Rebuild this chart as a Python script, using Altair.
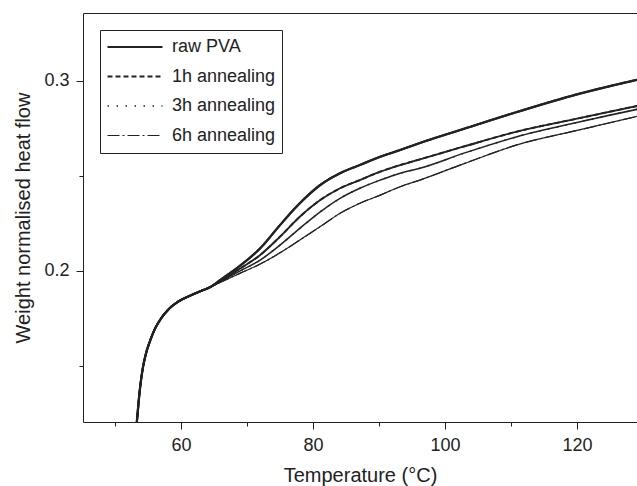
import altair as alt
import pandas as pd

# ---- data ----
series_names = ["raw PVA", "1h annealing", "3h annealing", "6h annealing"]

# shared low-temperature branch (all curves overlap)
common_T = [53.25, 53.5, 53.8, 54.2, 54.7, 55.3, 56.06, 57.0, 58.2, 59.6, 61.2, 63.0, 64.5]
common_v = [0.118, 0.128, 0.1385, 0.1485, 0.1565, 0.163, 0.1695, 0.175, 0.180, 0.1838, 0.1866,
            0.1893, 0.1915]

branch_T = [65.9, 68.9, 72.0, 75.0, 78.0, 81.1, 84.1, 87.1, 90.2, 93.2, 96.2, 103.0, 110.9, 120.0, 129.5]
raw_v = [0.1950, 0.2025, 0.2118, 0.2240, 0.2355, 0.2451, 0.2513, 0.2556, 0.2600, 0.2635, 0.2672,
         0.2748, 0.2835, 0.2928, 0.3008]
h1_v = [0.1946, 0.2010, 0.2083, 0.2179, 0.2284, 0.2372, 0.2434, 0.2477, 0.2521, 0.2556, 0.2586,
        0.2655, 0.2732, 0.2800, 0.2870]
h3_v = [0.1942, 0.1998, 0.2056, 0.2135, 0.2223, 0.2310, 0.2381, 0.2434, 0.2477, 0.2513, 0.2539,
        0.2620, 0.2705, 0.2780, 0.2852]
h6_v = [0.1938, 0.1986, 0.2035, 0.2094, 0.2161, 0.2232, 0.2302, 0.2355, 0.2398, 0.2442, 0.2477,
        0.2565, 0.2662, 0.2738, 0.2815]

x_ticks = [50, 60, 70, 80, 90, 100, 110, 120]
y_ticks = [0.15, 0.2, 0.25, 0.3]

rows = []
for name, vals in zip(series_names, [raw_v, h1_v, h3_v, h6_v]):
    for t, v in zip(common_T + branch_T, common_v + vals):
        rows.append({"T": t, "v": v, "series": name})
df = pd.DataFrame(rows)

FONT = "Liberation Sans"
INK = "#222222"

x_scale = alt.Scale(domain=[45.15, 129.09], nice=False, zero=False)
y_scale = alt.Scale(domain=[0.1204, 0.3356], nice=False, zero=False)

x_axis = alt.Axis(
    orient="bottom",
    values=x_ticks,
    labelExpr="datum.value % 20 == 0 ? datum.label : ''",
    tickSize={"condition": {"test": "datum.value % 20 == 0", "value": 7}, "value": 4},
    grid=False, domainColor=INK, tickColor=INK, labelColor=INK, titleColor=INK,
    labelFont=FONT, labelFontSize=18, titleFont=FONT, titleFontSize=20,
    titleFontWeight="normal", labelPadding=7, titlePadding=11,
    title="Temperature (°C)",
)
x_axis_top = alt.Axis(orient="top", labels=False, ticks=False, grid=False,
                      domainColor=INK, title=None)
y_axis = alt.Axis(
    values=y_ticks,
    labelExpr="(datum.value == 0.2 || datum.value == 0.3) ? format(datum.value, '.1f') : ''",
    tickSize={"condition": {"test": "datum.value == 0.2 || datum.value == 0.3", "value": 7}, "value": 4},
    grid=False, domainColor=INK, tickColor=INK, labelColor=INK, titleColor=INK,
    labelFont=FONT, labelFontSize=18, titleFont=FONT, titleFontSize=20,
    titleFontWeight="normal", labelPadding=7, titlePadding=10,
    title="Weight normalised heat flow",
)

dash_scale = alt.Scale(domain=series_names,
                       range=[[1, 0], [5, 3], [1.5, 7.5], [12, 3, 2, 3]])
width_scale = alt.Scale(domain=series_names, range=[2.2, 1.2, 1.2, 1.2])

legend = alt.Legend(
    title=None, orient="top-left", offset=17,
    labelFont=FONT, labelFontSize=18, labelColor=INK,
    symbolType="stroke", symbolSize=3025, symbolStrokeColor=INK,
    strokeColor=INK, padding=6, rowPadding=7.5, labelOffset=8,
    clipHeight=22, fillColor="white",
)

base = alt.Chart(df)

dashed = base.mark_line(clip=True, interpolate="monotone", color=INK).encode(
    x=alt.X("T:Q", scale=x_scale, axis=x_axis),
    y=alt.Y("v:Q", scale=y_scale, axis=y_axis),
    strokeDash=alt.StrokeDash("series:N", scale=dash_scale, legend=legend, sort=series_names),
    strokeWidth=alt.StrokeWidth("series:N", scale=width_scale, legend=legend, sort=series_names),
    order="T:Q",
)

solid = base.mark_line(clip=True, interpolate="monotone", color=INK).encode(
    x=alt.X("T:Q", scale=x_scale, axis=x_axis_top),
    y=alt.Y("v:Q", scale=y_scale, axis=y_axis),
    detail="series:N",
    strokeWidth=alt.StrokeWidth("series:N", scale=width_scale, legend=None),
    order="T:Q",
)

chart = alt.layer(dashed, solid).resolve_axis(x="independent").properties(
    width=554, height=409,
    padding={"left": 83, "top": 13, "right": 0, "bottom": 64},
    autosize=alt.AutoSizeParams(type="none"),
    background="white",
).configure_view(stroke=None)

chart.save("out.html", embed_options={"renderer": "svg", "actions": False})
